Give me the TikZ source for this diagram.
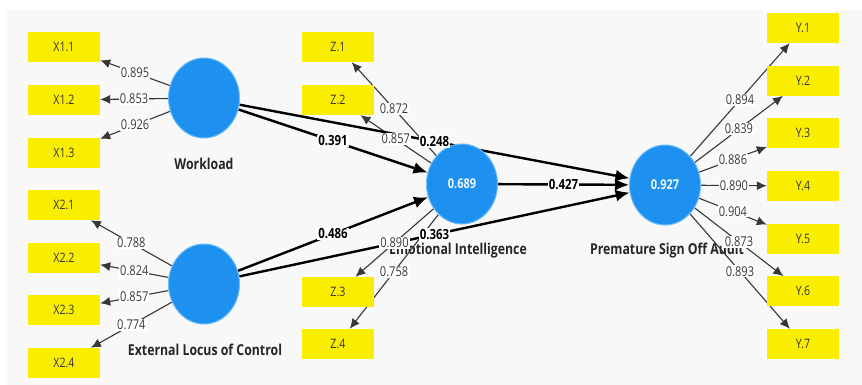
\documentclass[tikz,border=0pt]{standalone}
\usepackage{fontspec}
\setmainfont{Open Sans}[FakeStretch=0.82]
\usetikzlibrary{shapes.geometric,arrows.meta}

\definecolor{indyellow}{RGB}{250,238,0}
\definecolor{latblue}{RGB}{30,144,240}
\definecolor{latrim}{RGB}{110,190,250}
\definecolor{ldgray}{RGB}{55,55,55}
\definecolor{bggray}{RGB}{248,248,248}

\pgfdeclarelayer{background}
\pgfsetlayers{background,main}

\tikzset{
  indicator/.style={rectangle, fill=indyellow, minimum width=72pt, minimum height=30pt,
    inner sep=0pt, text=ldgray, font=\fontsize{13}{15}\selectfont},
  latent/.style={ellipse, fill=latblue, draw=latrim, line width=1pt, minimum width=71pt,
    minimum height=80pt, inner sep=0pt, text=white!92!latblue, font=\bfseries\fontsize{13.5}{15}\selectfont},
  lvname/.style={text=black!85, font=\bfseries\fontsize{15}{17}\selectfont},
  loadline/.style={draw=ldgray, line width=1.1pt, -{Latex[length=10pt,width=9pt]}},
  pathline/.style={draw=black, line width=2.4pt, -{Latex[length=14pt,width=12pt]}},
  loadval/.style={fill=white, inner sep=1pt, text=ldgray, font=\fontsize{13.5}{15}\selectfont},
  pathval/.style={fill=white, inner sep=1pt, text=black, font=\bfseries\fontsize{14}{16}\selectfont},
}

\begin{document}
\begin{tikzpicture}[x=1pt, y=-1pt]
  \useasboundingbox (0,0) rectangle (862,385);

  % latent variables
  \node[latent] (wl)  at (204,98)  {};
  \node[latent] (elc) at (204,284) {};
  \node[latent] (ei)  at (462,184) {0.689};
  \node[latent] (psa) at (665,185) {0.927};

  % indicators
  \foreach \i/\y in {1/47,2/100,3/153}
    \node[indicator] (x1\i) at (64,\y) {X1.\i};
  \foreach \i/\y in {1/205,2/258,3/310,4/363}
    \node[indicator] (x2\i) at (64,\y) {X2.\i};
  \foreach \i/\y in {1/47,2/100,3/292,4/344}
    \node[indicator] (z\i) at (338,\y) {Z.\i};
  \foreach \i [evaluate=\i as \y using 28+52.67*(\i-1)] in {1,...,7}
    \node[indicator] (y\i) at (803,\y) {Y.\i};

  \begin{pgfonlayer}{background}
    \fill[bggray] (7,10) rectangle (862,385);
    % construct names
    \node[lvname] (wl-name)  at (204,164) {Workload};
    \node[lvname] (elc-name) at (205,350) {External Locus of Control};
    \node[lvname] (ei-name)  at (458,251) {Emotional Intelligence};
    \node[lvname] (psa-name) at (667,251) {Premature Sign Off Audit};
  \end{pgfonlayer}

  % outer loadings
  \foreach \a/\b/\v in {wl/x11/0.895, wl/x12/0.853, wl/x13/0.926,
      elc/x21/0.788, elc/x22/0.824, elc/x23/0.857, elc/x24/0.774,
      ei/z1/0.872, ei/z2/0.857, ei/z3/0.890, ei/z4/0.758,
      psa/y1/0.894, psa/y2/0.839, psa/y3/0.886, psa/y4/0.890,
      psa/y5/0.904, psa/y6/0.873, psa/y7/0.893}{
    \begin{pgfonlayer}{background}
      \draw[loadline] (\a) -- coordinate[pos=.5] (\a-\b) (\b);
    \end{pgfonlayer}
    \node[loadval] (\a-\b-val) at (\a-\b) {\v};
  }

  % path coefficients
  \foreach \a/\b/\v in {wl/ei/0.391, wl/psa/0.248, elc/ei/0.486,
      elc/psa/0.363, ei/psa/0.427}{
    \begin{pgfonlayer}{background}
      \draw[pathline] (\a) -- coordinate[pos=.5] (\a-\b) (\b);
    \end{pgfonlayer}
    \node[pathval] (\a-\b-val) at (\a-\b) {\v};
  }
\end{tikzpicture}
\end{document}
